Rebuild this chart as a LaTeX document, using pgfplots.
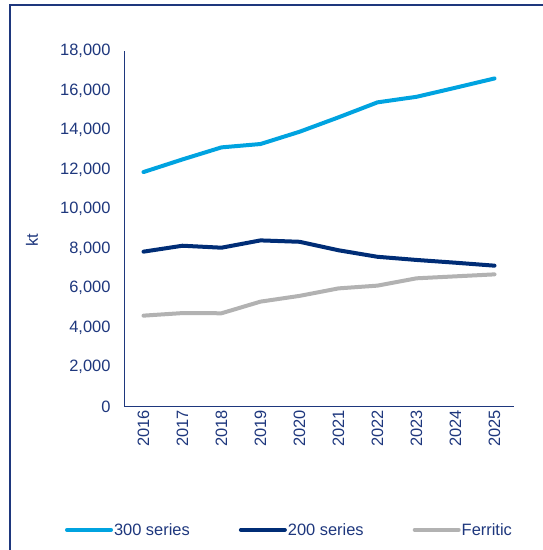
\documentclass[border=0pt]{standalone}
\usepackage{fontspec}
\setmainfont{Liberation Sans}
\usepackage{pgfplots}
\pgfplotsset{compat=1.18}

\definecolor{txtblue}{RGB}{30,55,125}
\definecolor{s300}{RGB}{0,163,224}
\definecolor{s200}{RGB}{0,45,118}
\definecolor{sferr}{RGB}{178,178,178}

\begin{document}
\begin{tikzpicture}[x=1bp,y=1bp]
  \useasboundingbox (0,0) rectangle (543,550);
  % frame (cut off at right and bottom)
  \draw[txtblue, line width=2bp] (10,0) -- (10,545) -- (543,545);

  \begin{axis}[
      at={(124bp,143.5bp)}, anchor=origin,
      scale only axis,
      width=390bp, height=355.5bp,
      xmin=2015.5, xmax=2025.5,
      ymin=0, ymax=18000,
      xtick={2016,2017,2018,2019,2020,2021,2022,2023,2024,2025},
      xticklabels={2016,2017,2018,2019,2020,2021,2022,2023,2024,2025},
      ytick={0,2000,4000,6000,8000,10000,12000,14000,16000,18000},
      scaled y ticks=false,
      /pgf/number format/fixed,
      /pgf/number format/1000 sep={,},
      /pgf/number format/assume math mode=true,
      axis x line=bottom, axis y line=left,
      axis line style={txtblue, line width=0.8bp, -},
      major tick length=0pt,
      tick label style={font=\fontsize{16.5}{19}\selectfont, text=txtblue},
      xticklabel style={rotate=90, anchor=east},
      yticklabel style={xshift=-10bp},
      ylabel={kt},
      ylabel style={font=\fontsize{16.5}{19}\selectfont, text=txtblue,
        at={(axis description cs:-0.236,0.468)}, anchor=center},
      legend columns=3,
      legend style={draw=none, fill=none, at={(axis description cs:0.423,-0.347)},
        anchor=center, font=\fontsize{16.5}{19}\selectfont, text=txtblue,
        /tikz/every even column/.append style={column sep=48bp},
        inner sep=0pt, nodes={inner xsep=1bp}},
      legend image code/.code={\draw[#1] (0bp,0bp) -- (44bp,0bp);},
      clip=false,
    ]
    \addplot[s300, line width=4bp, line join=round, line cap=round] coordinates {
      (2016,11870) (2017,12510) (2018,13120) (2019,13290) (2020,13910)
      (2021,14640) (2022,15400) (2023,15680) (2024,16140) (2025,16610)};
    \addplot[s200, line width=4bp, line join=round, line cap=round] coordinates {
      (2016,7840) (2017,8140) (2018,8040) (2019,8410) (2020,8340)
      (2021,7910) (2022,7580) (2023,7420) (2024,7280) (2025,7130)};
    \addplot[sferr, line width=4bp, line join=round, line cap=round] coordinates {
      (2016,4600) (2017,4730) (2018,4720) (2019,5310) (2020,5600)
      (2021,5980) (2022,6120) (2023,6490) (2024,6590) (2025,6690)};
    \legend{300 series, 200 series, Ferritic}
  \end{axis}
\end{tikzpicture}
\end{document}
